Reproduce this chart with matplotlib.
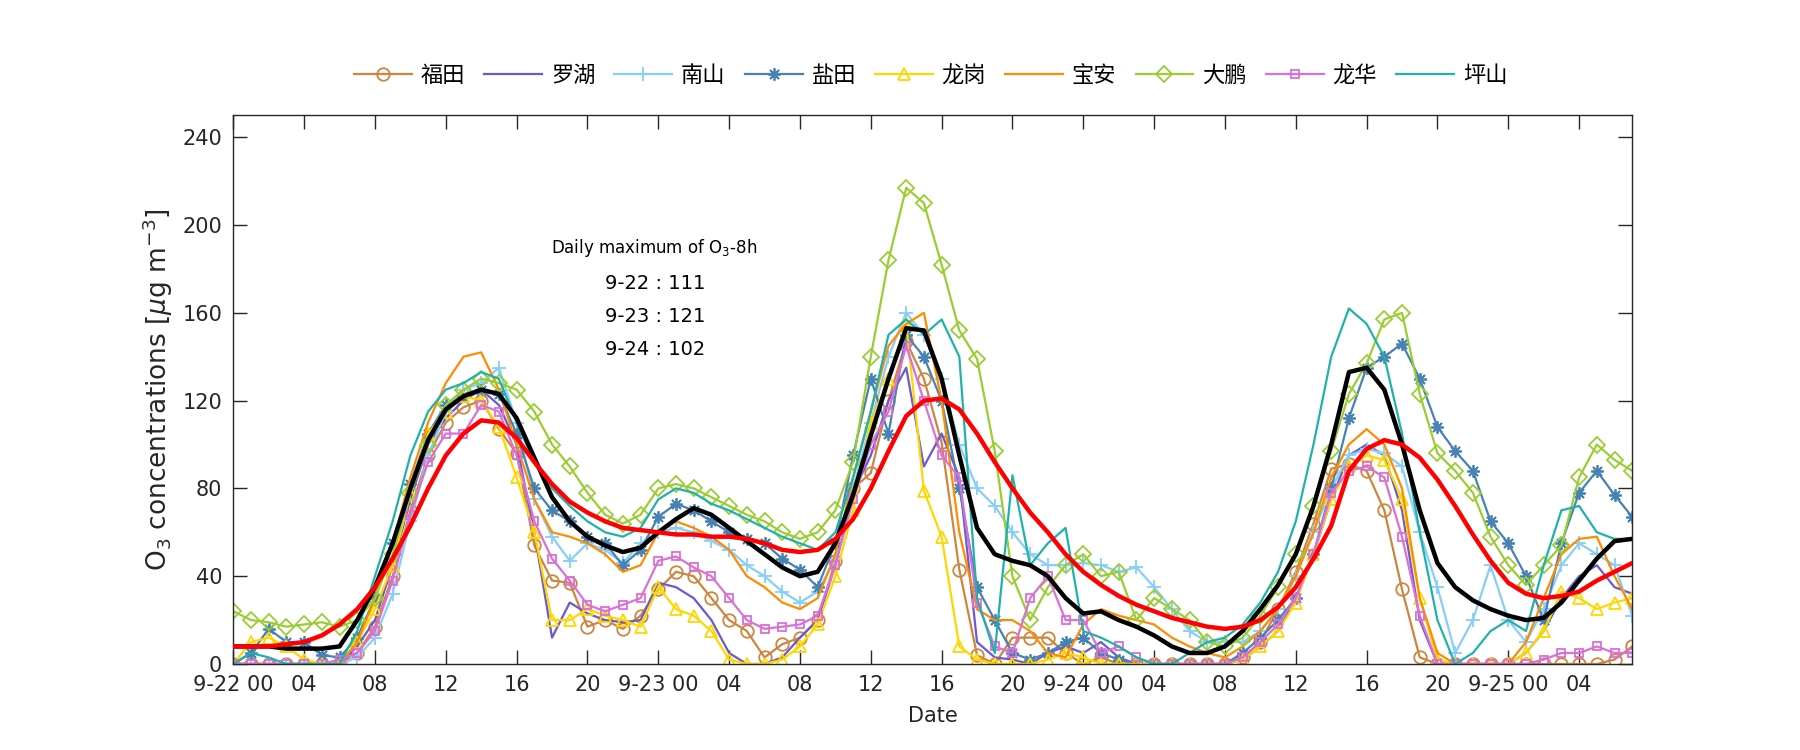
import matplotlib
matplotlib.use("Agg")
import matplotlib.pyplot as plt
import numpy as np

hours = list(range(80))
tick_pos = list(range(0, 80, 4))
tick_labels = ["9-22 00", "04", "08", "12", "16", "20",
               "9-23 00", "04", "08", "12", "16", "20",
               "9-24 00", "04", "08", "12", "16", "20",
               "9-25 00", "04"]

futian = [0,0,0,0,0,0,0,5, 17,40,70,95,110,117,120,107, 96,54,38,37,17,20,16,22,
          34,42,40,30,20,15,3,9, 12,20,47,80,87,120,147,130, 101,43,4,0,12,12,12,5,
          0,3,0,0,0,0,0,0, 0,3,10,25,42,64,89,91, 88,70,34,3,0,0,0,0,
          0,0,0,0,0,0,2,8]
luohu = [0,0,0,0,0,0,0,8, 20,45,75,100,112,120,125,118, 100,60,12,28,23,20,19,20,
         37,35,30,20,5,0,0,3, 12,20,45,78,95,120,135,90, 105,85,10,3,2,0,5,8,
         5,10,3,0,0,0,0,0, 0,2,8,15,30,50,75,95, 100,95,70,20,0,0,0,0,
         0,5,15,30,40,45,35,32]
nanshan = [0,0,0,0,0,0,0,3, 12,32,65,95,115,125,128,135, 110,75,58,47,55,52,46,55,
           60,62,60,56,52,45,40,33, 28,33,48,80,110,140,160,150, 130,100,80,72,60,50,45,45,
           46,45,42,44,35,25,15,10, 10,10,15,25,40,60,80,95, 98,96,90,60,35,5,20,45,
           20,10,25,45,55,50,45,22]
yantian = [0,5,16,10,10,4,3,12, 30,55,82,105,118,122,125,123, 105,80,70,65,58,55,45,52,
           67,73,70,65,60,57,55,48, 43,35,55,95,130,105,150,140, 120,80,35,20,5,2,5,10,
           12,5,2,0,0,0,0,0, 0,5,12,20,30,50,80,112, 135,140,146,130,108,97,88,65,
           55,40,20,55,78,88,77,67]
longgang = [0,10,12,8,2,0,0,10, 25,45,78,105,115,122,120,108, 85,60,20,20,25,22,20,17,
            35,25,22,15,2,0,0,2, 8,18,40,70,110,130,155,79, 58,8,2,0,0,0,2,5,
            3,0,0,0,0,0,0,0, 0,2,8,15,28,50,75,90, 95,93,75,30,2,0,0,0,
            0,5,15,33,30,25,28,30]
baoan = [0,0,0,0,0,0,0,10, 30,55,85,110,128,140,142,125, 100,75,60,58,55,50,42,45,
         60,65,62,58,52,40,35,28, 25,30,50,85,115,145,155,160, 120,60,25,20,20,15,5,3,
         18,25,22,20,18,12,8,5, 3,8,15,25,40,60,85,100, 107,100,80,30,5,0,0,0,
         0,10,30,50,57,58,40,25]
dapeng = [24,20,19,17,18,19,17,20, 30,50,78,100,118,125,130,128, 125,115,100,90,78,68,64,68,
          80,82,80,76,72,68,65,60, 57,60,70,92,140,184,217,210, 182,152,139,97,40,20,35,45,
          50,40,42,20,30,25,20,10, 8,12,22,35,50,72,97,123, 137,157,160,123,96,88,78,58,
          45,36,45,54,85,100,93,88]
longhua = [0,0,0,0,0,0,2,5, 15,38,68,92,105,105,118,115, 95,65,48,38,27,24,27,30,
           47,49,44,40,30,20,16,17, 18,22,45,75,100,115,145,120, 95,85,28,8,5,30,40,20,
           20,5,8,3,0,0,0,0, 0,3,10,18,30,50,78,88, 90,85,58,22,0,0,0,0,
           0,0,2,5,5,8,5,5]
pingshan = [0,5,3,0,0,0,0,15, 40,65,95,115,125,128,133,130, 110,92,80,72,65,60,58,62,
            75,80,78,73,70,66,62,58, 55,52,60,85,115,150,157,150, 157,140,30,5,86,45,55,62,
            15,12,8,3,0,0,5,10, 12,18,28,42,65,100,140,162, 155,140,105,60,20,0,5,15,
            20,15,45,70,72,60,57,57]
mean_all = [8,8,8,7,7,7,8,20, 35,55,80,102,116,122,125,123, 112,94,76,65,58,54,51,53,
            60,66,71,68,62,56,50,44, 40,42,55,77,104,130,153,152, 130,95,62,50,47,45,40,30,
            23,24,20,17,13,8,5,5, 8,15,25,36,50,72,100,133, 135,125,100,70,46,35,29,25,
            22,20,21,28,38,48,56,57]
o3_8h = [8,8,8,9,10,13,18,25, 35,48,63,80,95,105,111,110, 103,92,82,74,69,65,62,61,
         60,59,59,58,58,57,55,52, 51,52,57,66,80,97,113,120, 121,116,105,92,80,69,60,50,
         42,36,31,27,24,21,19,17, 16,17,20,26,35,48,63,88, 98,102,100,94,84,72,59,47,
         37,32,30,31,33,38,42,46]

stations = ["福田", "罗湖", "南山", "盐田", "龙岗", "宝安", "大鹏", "龙华", "坪山"]
series = [futian, luohu, nanshan, yantian, longgang, baoan, dapeng, longhua, pingshan]
colors = ["#CD853F", "#6A5ACD", "#87CEFA", "#4682B4", "#FFD700", "#FF8C00",
          "#9ACD32", "#DA70D6", "#20B2AA"]
markers = ["o", None, "+", (8, 2, 0), "^", None, "D", "s", None]
msizes = [9, 0, 10, 9, 9, 0, 8, 6, 0]

note_lines = ["Daily maximum of O$_3$-8h", "9-22 : 111", "9-23 : 121", "9-24 : 102"]
note_y = [189.5, 173.5, 158.5, 143.5]
note_size = [12, 14, 14, 14]

plt.rcParams['font.family'] = ['DejaVu Sans', 'Noto Sans CJK SC']
fig = plt.figure(figsize=(18, 7.5), dpi=100)
ax = fig.add_axes([0.1296, 0.1147, 0.7772, 0.7315])

for name, vals, c, m, ms in zip(stations, series, colors, markers, msizes):
    if m is None:
        ax.plot(hours, vals, color=c, lw=1.6, label=name)
    else:
        ax.plot(hours, vals, color=c, lw=1.6, marker=m, ms=ms, mfc='none',
                mec=c, mew=1.3, label=name)

ax.plot(hours, mean_all, color='black', lw=3.2, zorder=5)
ax.plot(hours, o3_8h, color='red', lw=3.2, zorder=5)

ax.set_xlim(0, 79)
ax.set_ylim(0, 250)
ax.set_xticks(tick_pos)
ax.set_xticklabels(tick_labels)
ax.set_yticks(range(0, 241, 40))
ax.tick_params(direction='in', top=True, right=True, length=10, width=1,
               labelsize=15, colors='#262626', pad=8)
for s in ax.spines.values():
    s.set_color('#262626')
    s.set_linewidth(1)

ax.set_xlabel("Date", fontsize=15, color='#262626', labelpad=8)
ax.set_ylabel(r"O$_3$ concentrations [$\mu$g m$^{-3}$]", fontsize=19,
              color='#262626', labelpad=5)

for t, yv, fs in zip(note_lines, note_y, note_size):
    ax.text(23.8, yv, t, ha='center', va='center', fontsize=fs, color='black')

leg = fig.legend(loc='center', bbox_to_anchor=(0.517, 0.899), ncol=9, frameon=False,
                 prop={'family': ['Noto Sans CJK SC', 'DejaVu Sans'], 'size': 16},
                 handlelength=2.6, columnspacing=0.86, handletextpad=0.4)

fig.savefig("out.png", dpi=100)
